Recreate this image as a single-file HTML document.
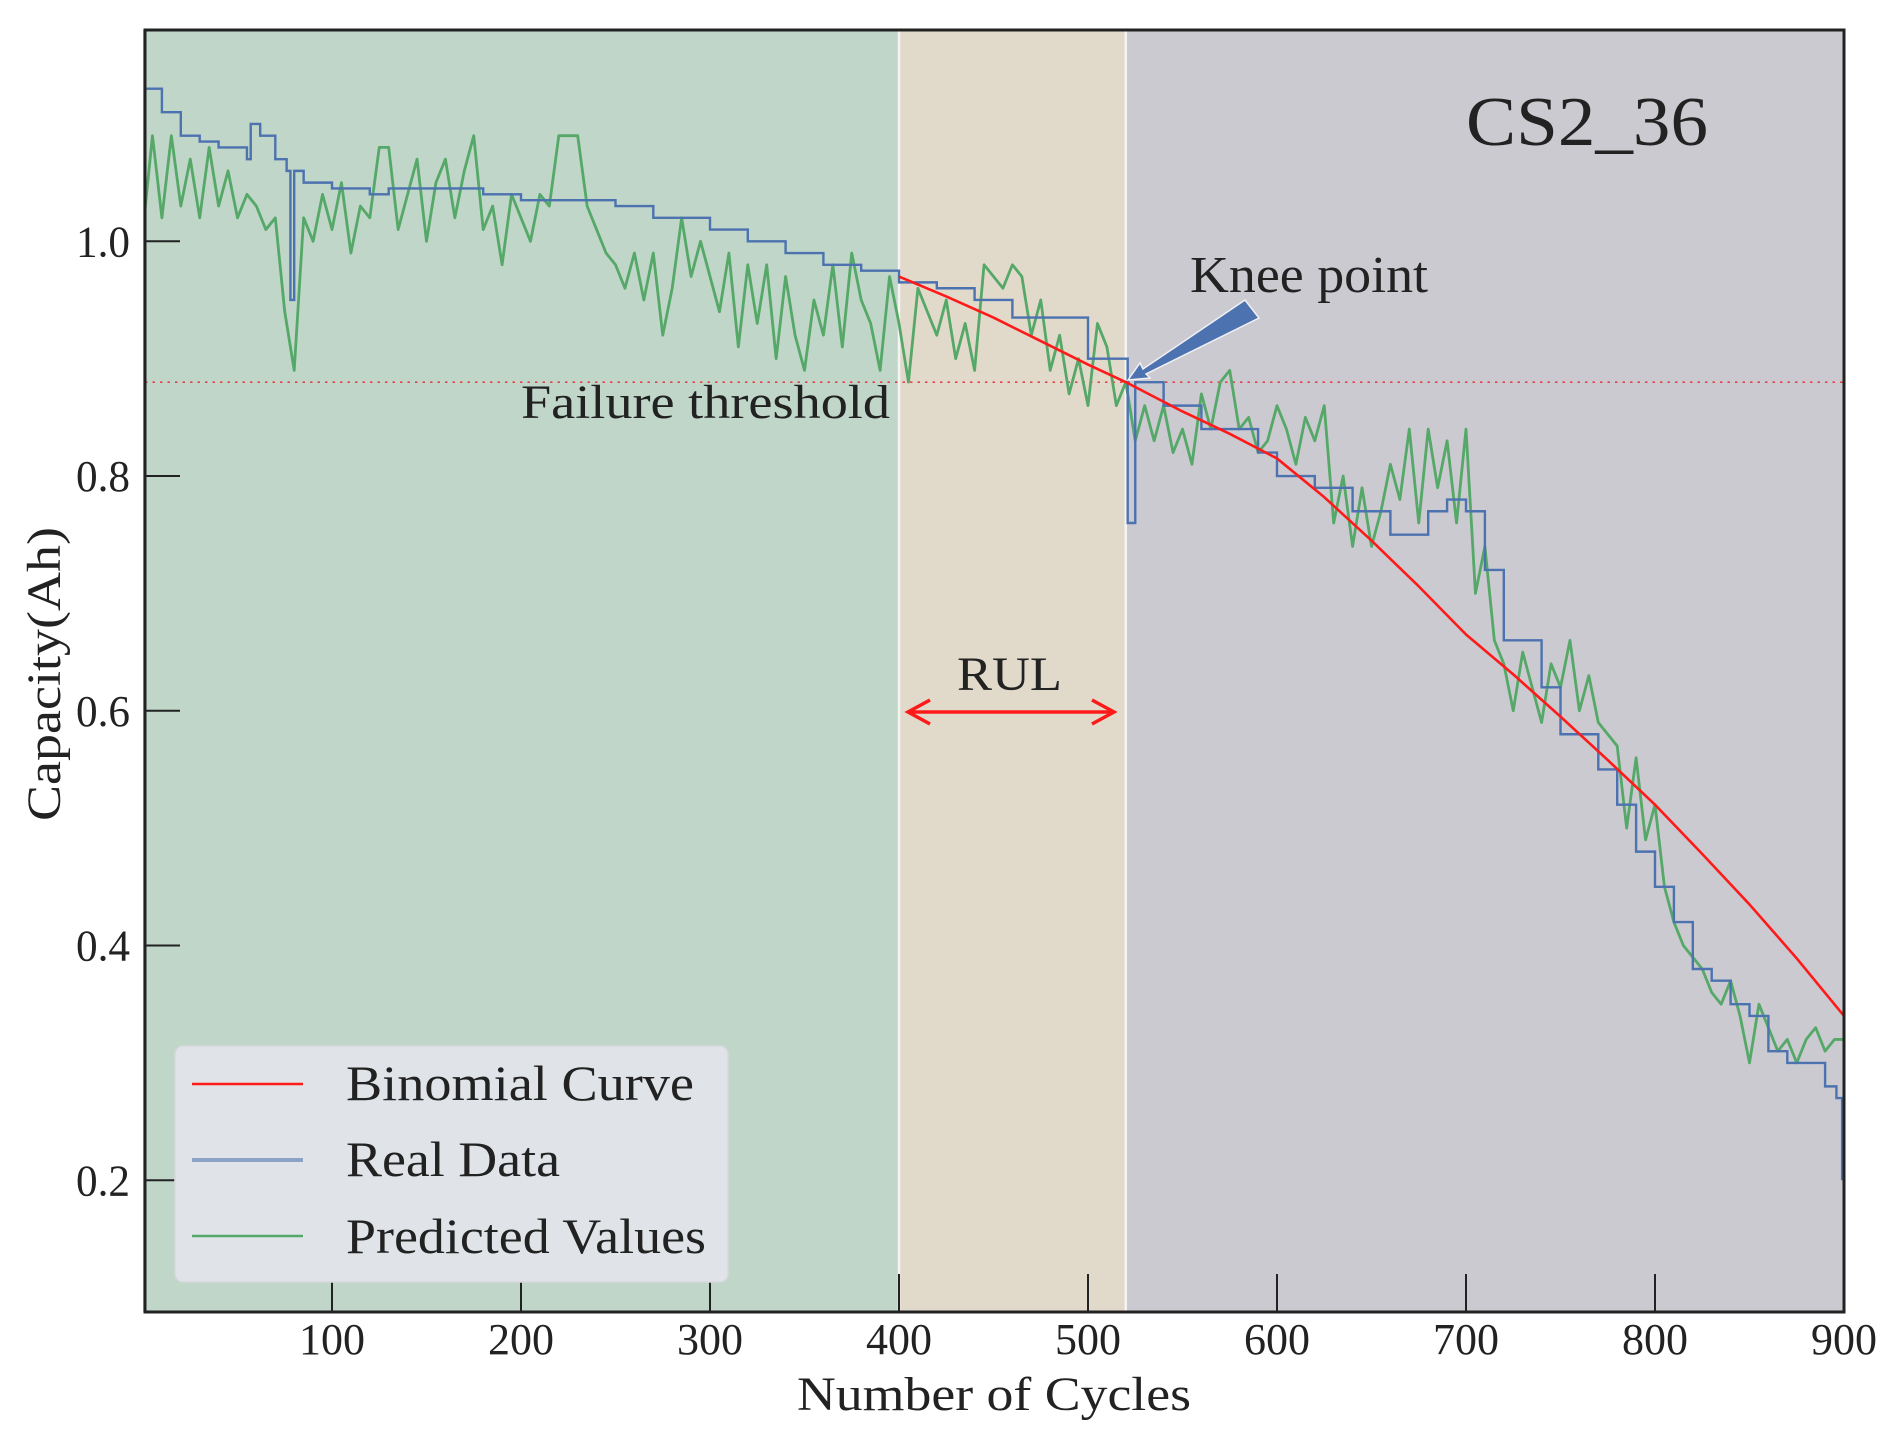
<!DOCTYPE html>
<html><head><meta charset="utf-8"><style>
html,body{margin:0;padding:0;background:#fff;}
svg{display:block;font-family:"Liberation Serif",serif;}
</style></head><body>
<svg id="chart" width="1892" height="1440" viewBox="0 0 1892 1440" xmlns="http://www.w3.org/2000/svg">
<defs><clipPath id="pc"><rect x="145" y="30" width="1699" height="1282"/></clipPath></defs>
<g id="bg"></g>
<g id="marks" clip-path="url(#pc)"></g>
<g id="axes"></g>
</svg>
<script>
const xTicks=[100,200,300,400,500,600,700,800,900];
const yTicks=[0.2,0.4,0.6,0.8,1.0];
const yTickLabels=["0.2","0.4","0.6","0.8","1.0"];
const regionBounds=[0,400,520,900];
const threshold=0.88;
const predStep=5;
const predicted=[1.01,1.09,1.02,1.09,1.03,1.07,1.02,1.08,1.03,1.06,1.02,1.04,1.03,1.01,1.02,0.94,0.89,1.02,1.00,1.04,1.01,
1.05,0.99,1.03,1.02,1.08,1.08,1.01,1.04,1.07,1.00,1.05,1.07,1.02,1.06,1.09,1.01,1.03,0.98,1.04,1.02,
1.00,1.04,1.03,1.09,1.09,1.09,1.03,1.01,0.99,0.98,0.96,0.99,0.95,0.99,0.92,0.96,1.02,0.97,1.00,0.97,
0.94,0.99,0.91,0.98,0.93,0.98,0.90,0.97,0.92,0.89,0.95,0.92,0.98,0.91,0.99,0.95,0.93,0.89,0.97,0.93,
0.88,0.96,0.94,0.92,0.95,0.90,0.93,0.89,0.98,0.97,0.96,0.98,0.97,0.92,0.95,0.89,0.92,0.87,0.90,0.86,
0.93,0.91,0.86,0.88,0.83,0.86,0.83,0.86,0.82,0.84,0.81,0.87,0.84,0.88,0.89,0.84,0.85,0.82,0.83,0.86,
0.84,0.81,0.85,0.83,0.86,0.76,0.80,0.74,0.79,0.74,0.77,0.81,0.78,0.84,0.76,0.84,0.79,0.83,0.76,0.84,
0.70,0.74,0.66,0.64,0.60,0.65,0.62,0.59,0.64,0.62,0.66,0.60,0.63,0.59,0.58,0.57,0.50,0.56,0.49,0.52,
0.45,0.42,0.40,0.39,0.38,0.36,0.35,0.37,0.34,0.30,0.35,0.33,0.31,0.32,0.30,0.32,0.33,0.31,0.32,0.32];
const realCycles=[1,10,20,30,40,55,57,62,70,76,78,80,85,100,120,130,160,180,200,240,250,270,300,320,340,360,380,400,420,440,460,480,500,519,521,525,540,560,580,590,600,620,630,640,660,680,690,700,710,720,740,750,760,770,780,790,800,810,820,830,840,850,860,870,880,890,896,899];
const realValues=[1.13,1.11,1.09,1.085,1.08,1.07,1.10,1.09,1.07,1.06,0.95,1.06,1.05,1.045,1.04,1.045,1.045,1.04,1.035,1.035,1.03,1.02,1.01,1.0,0.99,0.98,0.975,0.965,0.96,0.95,0.935,0.935,0.90,0.90,0.76,0.88,0.86,0.84,0.84,0.82,0.80,0.79,0.79,0.77,0.75,0.77,0.78,0.77,0.72,0.66,0.62,0.58,0.58,0.55,0.52,0.48,0.45,0.42,0.38,0.37,0.35,0.34,0.31,0.30,0.30,0.28,0.27,0.20];
const curveCycles=[400,425,450,475,500,520,550,575,600,625,650,675,700,725,750,775,800,825,850,875,900];
const curveValues=[0.97,0.953,0.935,0.915,0.895,0.88,0.855,0.836,0.815,0.782,0.745,0.706,0.665,0.631,0.595,0.558,0.52,0.478,0.435,0.389,0.34];

const X0=143,XS=1701/900,YT=241.3,YS=1173.7;
const x=v=>X0+v*XS;
const y=v=>YT+(1.0-v)*YS;
const NS="http://www.w3.org/2000/svg";
function mk(tag,attrs,parent,text){const e=document.createElementNS(NS,tag);for(const k in attrs)e.setAttribute(k,attrs[k]);if(text!==undefined)e.textContent=text;parent.appendChild(e);return e;}
const bg=document.getElementById('bg'),marks=document.getElementById('marks'),axes=document.getElementById('axes');

const regColors=["#bfd6c8","#e1dacb","#cbcad0"];
const regNames=["training-region","rul-region","prediction-region"];
for(let i=0;i<3;i++){
 const r=mk('rect',{x:x(regionBounds[i]),y:30,width:x(regionBounds[i+1])-x(regionBounds[i]),height:1282,fill:regColors[i]},bg);
 
 
}
[400,520].forEach(c=>{const l=mk('line',{x1:x(c),x2:x(c),y1:30,y2:1312,stroke:"#f4f4f4","stroke-width":2.5},bg);
 
 });

const th=mk('line',{x1:145,x2:1844,y1:y(threshold),y2:y(threshold),stroke:"#e0474c","stroke-width":1.6,"stroke-dasharray":"2.5 5"},marks);



const gp=mk('polyline',{points:predicted.map((v,i)=>x(i*predStep)+','+y(v)).join(' '),fill:'none',stroke:'#55a868','stroke-width':2.8,'stroke-linejoin':'round'},marks);


let bp=[];realCycles.forEach((c,i)=>{if(i>0)bp.push(x(c)+','+y(realValues[i-1]));bp.push(x(c)+','+y(realValues[i]));});
const rp=mk('polyline',{points:bp.join(' '),fill:'none',stroke:'#4c72b0','stroke-width':2.4},marks);


const cp=mk('polyline',{points:curveCycles.map((c,i)=>x(c)+','+y(curveValues[i])).join(' '),fill:'none',stroke:'#ff1a1a','stroke-width':2.6,'stroke-linejoin':'round'},marks);



const fr=mk('rect',{x:145,y:30,width:1699,height:1282,fill:'none',stroke:'#222','stroke-width':3},axes);


xTicks.forEach(t=>{
 const tk=mk('line',{x1:x(t),x2:x(t),y1:1312,y2:1274,stroke:'#222','stroke-width':2},axes);
 
 
 const tl=mk('text',{x:x(t),y:1354,'font-size':44,'text-anchor':'middle',fill:'#222',textLength:66,lengthAdjust:'spacingAndGlyphs'},axes,String(t));
 
 
});
yTicks.forEach((t,i)=>{
 const tk=mk('line',{x1:145,x2:180,y1:y(t),y2:y(t),stroke:'#222','stroke-width':2},axes);
 
 
 const tl=mk('text',{x:130,y:y(t)+15,'font-size':44,'text-anchor':'end',fill:'#222',textLength:54,lengthAdjust:'spacingAndGlyphs'},axes,yTickLabels[i]);
 
 
});
</script>
<script>
(function(){
const NS="http://www.w3.org/2000/svg";const svg=document.getElementById('chart');
function t(txt,a){const e=document.createElementNS(NS,'text');for(const k in a)e.setAttribute(k,a[k]);e.textContent=txt;svg.appendChild(e);return e;}
let e;
e=t("Number of Cycles",{x:797,y:1410,'font-size':48,fill:'#222',textLength:394,lengthAdjust:'spacingAndGlyphs'});


e=t("Capacity(Ah)",{x:0,y:0,'font-size':48,fill:'#222','text-anchor':'middle',textLength:294,lengthAdjust:'spacingAndGlyphs',transform:'translate(60,674) rotate(-90)'});


e=t("CS2_36",{x:1466,y:145,'font-size':70,fill:'#222',textLength:242,lengthAdjust:'spacingAndGlyphs'});


e=t("Failure threshold",{x:521,y:418,'font-size':48,fill:'#222',textLength:369,lengthAdjust:'spacingAndGlyphs'});


e=t("RUL",{x:957,y:690,'font-size':48,fill:'#222',textLength:105,lengthAdjust:'spacingAndGlyphs'});


e=t("Knee point",{x:1190,y:292,'font-size':52,fill:'#222',textLength:238,lengthAdjust:'spacingAndGlyphs'});


const g=document.createElementNS(NS,'g');svg.appendChild(g);


g.innerHTML='<line x1="908" y1="712" x2="1114" y2="712" stroke="#ff1a1a" stroke-width="3.5"/><polyline points="930,700 908,712 930,724" fill="none" stroke="#ff1a1a" stroke-width="3.5"/><polyline points="1092,700 1114,712 1092,724" fill="none" stroke="#ff1a1a" stroke-width="3.5"/>';
const k=document.createElementNS(NS,'polygon');svg.appendChild(k);
k.setAttribute('points','1128,380 1140,363 1143,369 1245,300 1259,318 1146,374 1150,378');
k.setAttribute('fill','#4c72b0');k.setAttribute('stroke','#f0f0f5');k.setAttribute('stroke-width','1.5');


const L=document.createElementNS(NS,'g');svg.appendChild(L);


L.innerHTML='<rect x="175" y="1046" width="553" height="236" rx="8" fill="#e0e4e8" stroke="#d6d9dc" stroke-width="1.5"/>'+
'<line x1="192" x2="303" y1="1084" y2="1084" stroke="#ff1a1a" stroke-width="2.6"/>'+
'<line x1="192" x2="303" y1="1160" y2="1160" stroke="#8aa3c8" stroke-width="4"/>'+
'<line x1="192" x2="303" y1="1236" y2="1236" stroke="#55a868" stroke-width="2.6"/>';
[["Binomial Curve",1100,348,'legend-entry-binomial'],["Real Data",1176,214,'legend-entry-real'],["Predicted Values",1253,360,'legend-entry-predicted']].forEach(r=>{
 const tt=document.createElementNS(NS,'text');tt.setAttribute('x',346);tt.setAttribute('y',r[1]);tt.setAttribute('font-size',50);tt.setAttribute('fill','#222');tt.setAttribute('textLength',r[2]);tt.setAttribute('lengthAdjust','spacingAndGlyphs');tt.textContent=r[0];
 
 
 L.appendChild(tt);
});
})();
</script>
</body></html>
